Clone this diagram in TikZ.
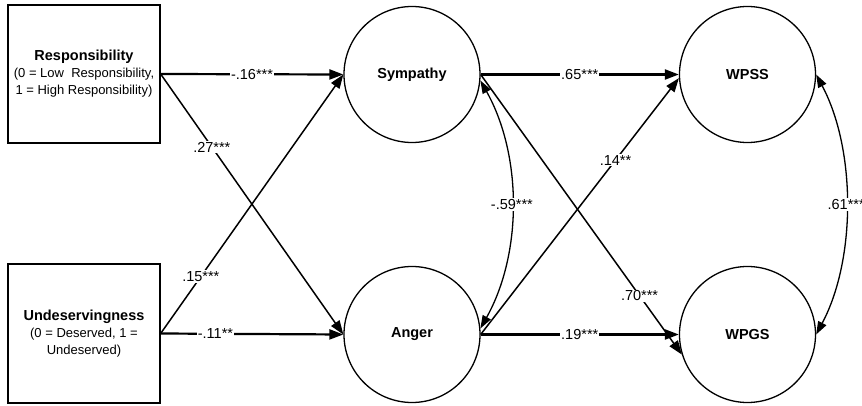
\documentclass[tikz,border=0pt]{standalone}
\usepackage{fontspec}
\setmainfont{Liberation Sans}
\usetikzlibrary{arrows.meta}
\begin{document}
\begin{tikzpicture}[x=1pt,y=-1pt,
  box/.style={draw,line width=1.3pt,minimum width=152pt,minimum height=138pt,inner sep=0pt,align=center,font=\fontsize{13}{17}\selectfont},
  var/.style={draw,circle,line width=1.3pt,minimum size=136pt,inner sep=0pt,font=\fontsize{14.5}{17}\selectfont\bfseries},
  arr/.style={-{Triangle[length=14pt,width=10pt]},line width=1.5pt},
  mainarr/.style={arr,line width=2.2pt},
  cov/.style={{Triangle[length=13pt,width=9pt]}-{Triangle[length=13pt,width=9pt]},line width=1.3pt},
  lab/.style={fill=white,inner sep=1pt,font=\fontsize{14.5}{16}\selectfont}]
\useasboundingbox (0,0) rectangle (862,406);
\node[box] (Resp) at (84,74) {{\bfseries\fontsize{14.5}{17}\selectfont Responsibility}\\(0 = Low\ \ Responsibility,\\1 = High Responsibility)};
\node[box,minimum height=139pt] (Undes) at (84,333.5) {{\bfseries\fontsize{14.5}{17}\selectfont Undeservingness}\\(0 = Deserved, 1 =\\Undeserved)};
\node[var] (Sym) at (412,74.5) {Sympathy};
\node[var] (Ang) at (412,334.5) {Anger};
\node[var] (WPSS) at (747.5,74.5) {WPSS};
\node[var] (WPGS) at (747.5,334.5) {WPGS};
\draw[mainarr] (Resp.east) -- node[lab,pos=.5]{-.16***} (Sym.west);
\draw[arr] (Resp.east) -- node[lab,pos=.28]{.27***} (Ang.west);
\draw[arr] (Undes.east) -- node[lab,pos=.22]{.15***} (Sym.west);
\draw[mainarr] (Undes.east) -- node[lab,pos=.3]{-.11**} (Ang.west);
\draw[mainarr] (Sym.east) -- node[lab]{.65***} (WPSS.west);
\draw[mainarr] (Ang.east) -- node[lab]{.19***} (WPGS.west);
\draw[arr] (Ang.east) -- node[lab,pos=.68]{.14**} (WPSS.183);
\draw[arr] (Sym.east) -- node[lab,pos=.79]{.70***} (WPGS.197);
\draw[cov] (Sym.-5) .. controls +(42,75) and +(42,-75) .. node[lab]{-.59***} (Ang.5);
\draw[cov] (WPSS.east) .. controls +(40,75) and +(40,-75) .. node[lab]{.61***} (WPGS.east);
\end{tikzpicture}
\end{document}
